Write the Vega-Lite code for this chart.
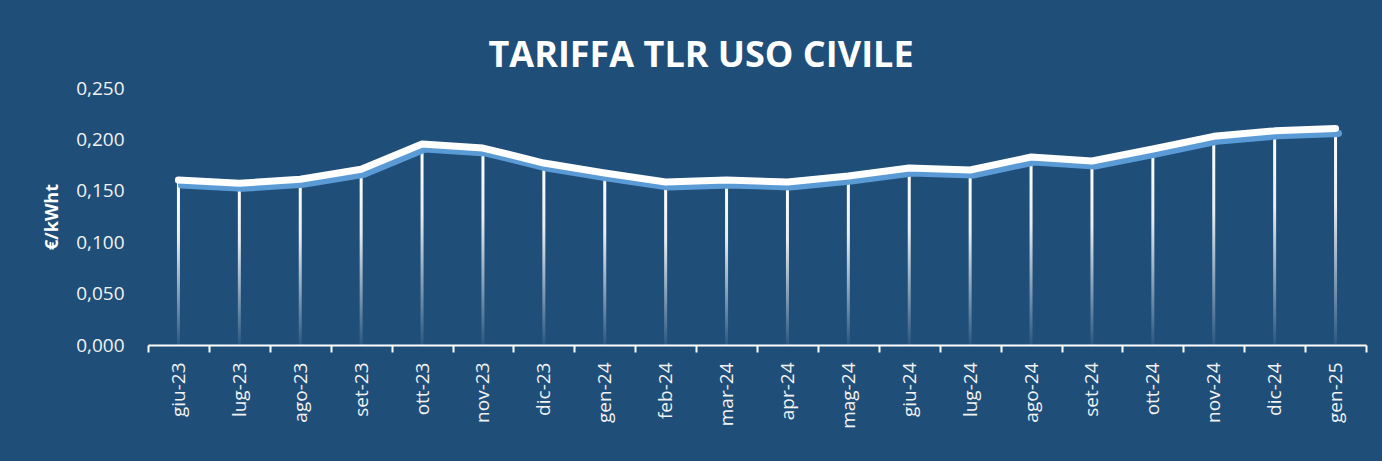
{
  "$schema": "https://vega.github.io/schema/vega-lite/v6.json",
  "width": 1218,
  "height": 257,
  "autosize": {"type": "none"},
  "padding": {"left": 148, "top": 88, "right": 16, "bottom": 116},
  "background": "#1F4E79",
  "config": {
    "view": {"stroke": null},
    "font": "Open Sans"
  },
  "title": {
    "text": "TARIFFA TLR USO CIVILE",
    "font": "Open Sans",
    "fontSize": 36,
    "fontWeight": "bold",
    "color": "#FFFFFF",
    "anchor": "middle",
    "dx": -56,
    "offset": 4
  },
  "data": {
    "values": [
      {"mese": "giu-23", "tariffa": 0.1605},
      {"mese": "lug-23", "tariffa": 0.1573},
      {"mese": "ago-23", "tariffa": 0.1612},
      {"mese": "set-23", "tariffa": 0.1709},
      {"mese": "ott-23", "tariffa": 0.1955},
      {"mese": "nov-23", "tariffa": 0.1916},
      {"mese": "dic-23", "tariffa": 0.1770},
      {"mese": "gen-24", "tariffa": 0.1673},
      {"mese": "feb-24", "tariffa": 0.1586},
      {"mese": "mar-24", "tariffa": 0.1605},
      {"mese": "apr-24", "tariffa": 0.1586},
      {"mese": "mag-24", "tariffa": 0.1644},
      {"mese": "giu-24", "tariffa": 0.1722},
      {"mese": "lug-24", "tariffa": 0.1702},
      {"mese": "ago-24", "tariffa": 0.1829},
      {"mese": "set-24", "tariffa": 0.1790},
      {"mese": "ott-24", "tariffa": 0.1907},
      {"mese": "nov-24", "tariffa": 0.2030},
      {"mese": "dic-24", "tariffa": 0.2083},
      {"mese": "gen-25", "tariffa": 0.2106}
    ]
  },
  "encoding": {
    "x": {
      "field": "mese",
      "type": "ordinal",
      "sort": null,
      "scale": {"type": "band", "paddingInner": 0, "paddingOuter": 0},
      "axis": {
        "title": null,
        "tickBand": "extent",
        "labelAngle": -90,
        "labelAlign": "right",
        "labelBaseline": "middle",
        "labelFont": "Open Sans",
        "labelFontSize": 19,
        "labelColor": "#F2F2F2",
        "labelPadding": 10,
        "domainColor": "#FFFFFF",
        "domainWidth": 2,
        "tickColor": "#FFFFFF",
        "tickWidth": 2,
        "tickSize": 7,
        "grid": false
      }
    },
    "y": {
      "field": "tariffa",
      "type": "quantitative",
      "scale": {"domain": [0, 0.25], "nice": false, "zero": true},
      "axis": {
        "title": "€/kWht",
        "titleFont": "Open Sans",
        "titleFontSize": 18,
        "titleFontWeight": "bold",
        "titleColor": "#FFFFFF",
        "titlePadding": 14,
        "values": [0, 0.05, 0.1, 0.15, 0.2, 0.25],
        "labelExpr": "replace(format(datum.value, '.3f'), '.', ',')",
        "labelFont": "Open Sans",
        "labelFontSize": 19,
        "labelColor": "#F2F2F2",
        "labelPadding": 24,
        "domain": false,
        "ticks": false,
        "grid": false
      }
    }
  },
  "layer": [
    {
      "mark": {
        "type": "bar",
        "width": 3,
        "fill": {
          "gradient": "linear",
          "x1": 0, "y1": 0, "x2": 0, "y2": 1,
          "stops": [
            {"offset": 0, "color": "#FFFFFF"},
            {"offset": 0.35, "color": "rgba(255,255,255,0.9)"},
            {"offset": 1, "color": "rgba(255,255,255,0.05)"}
          ]
        }
      }
    },
    {
      "mark": {
        "type": "line",
        "color": "#5B9BD5",
        "strokeWidth": 7,
        "strokeCap": "round",
        "strokeJoin": "round",
        "xOffset": 3,
        "yOffset": 5
      }
    },
    {
      "mark": {
        "type": "line",
        "color": "#FFFFFF",
        "strokeWidth": 7,
        "strokeCap": "round",
        "strokeJoin": "round"
      }
    }
  ]
}
